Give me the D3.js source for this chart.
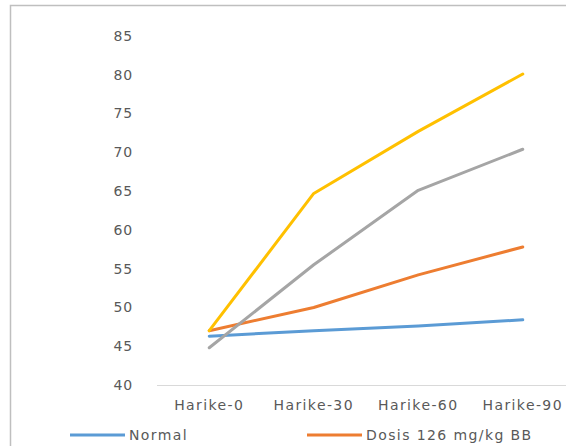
<!DOCTYPE html>
<html>
<head>
<meta charset="utf-8">
<script src="https://cdn.jsdelivr.net/npm/d3@7"></script>
<style>
  html, body { margin: 0; padding: 0; background: #fff; }
  svg { display: block; }
  text { font-family: "DejaVu Sans", sans-serif; fill: #595959; }
</style>
</head>
<body>
<svg id="chart" width="566" height="446"></svg>
<script>
// Observation days
const categories = ["Harike-0", "Harike-30", "Harike-60", "Harike-90"];
// Y axis ticks
const yTicks = [40, 45, 50, 55, 60, 65, 70, 75, 80, 85];

// Series values per day
const normal = [46.3, 47.0, 47.6, 48.4];
const dosis126 = [47.0, 50.0, 54.2, 57.8];
const seriesGray = [44.8, 55.5, 65.1, 70.4];
const seriesYellow = [47.0, 64.7, 72.7, 80.1];

const seriesNames = ["Normal", "Dosis 126 mg/kg BB"];
const seriesColors = ["#5b9bd5", "#ed7d31", "#a5a5a5", "#ffc000"];

const series = [
  { values: normal, color: seriesColors[0], name: seriesNames[0] },
  { values: dosis126, color: seriesColors[1], name: seriesNames[1] },
  { values: seriesGray, color: seriesColors[2] },
  { values: seriesYellow, color: seriesColors[3] }
];

const svg = d3.select("#chart");

// Chart frame
svg.append("rect")
  .attr("x", 10.5).attr("y", 5.5)
  .attr("width", 600).attr("height", 480)
  .attr("fill", "none").attr("stroke", "#bfbfbf").attr("stroke-width", 1.5);

const plotLeft = 157, plotRight = 575;
const x = d3.scaleBand().domain(categories).range([plotLeft, plotRight]);
const y = d3.scaleLinear().domain([40, 85]).range([385, 36]);

// Baseline axis
svg.append("line")
  .attr("x1", plotLeft).attr("x2", plotRight)
  .attr("y1", y(40) + 0.5).attr("y2", y(40) + 0.5)
  .attr("stroke", "#d9d9d9").attr("stroke-width", 1);

// Y tick labels
svg.append("g").selectAll("text").data(yTicks).join("text")
  .attr("x", 133).attr("y", d => y(d))
  .attr("dy", "0.35em")
  .attr("text-anchor", "end")
  .style("font-size", "14px")
  .style("letter-spacing", "0.8px")
  .text(d => d);

// X category labels
svg.append("g").selectAll("text").data(categories).join("text")
  .attr("x", d => x(d) + x.bandwidth() / 2)
  .attr("y", 410)
  .attr("text-anchor", "middle")
  .style("font-size", "14px")
  .style("letter-spacing", "1.4px")
  .text(d => d);

// Lines
const line = d3.line()
  .x((d, i) => x(categories[i]) + x.bandwidth() / 2)
  .y(d => y(d));

svg.append("g").selectAll("path").data(series).join("path")
  .attr("d", d => line(d.values))
  .attr("fill", "none")
  .attr("stroke", d => d.color)
  .attr("stroke-width", 3)
  .attr("stroke-linejoin", "round")
  .attr("stroke-linecap", "round");

// Legend
const legendItems = series.filter(s => s.name);
const legendX = [70, 307];
const lg = svg.append("g").selectAll("g").data(legendItems).join("g")
  .attr("transform", (d, i) => `translate(${legendX[i]},435)`);
lg.append("line")
  .attr("x1", 0).attr("x2", 55).attr("y1", 0).attr("y2", 0)
  .attr("stroke", d => d.color).attr("stroke-width", 3);
lg.append("text")
  .attr("x", 59).attr("y", 0).attr("dy", "0.35em")
  .style("font-size", "14px")
  .style("letter-spacing", "1.4px")
  .text(d => d.name);
</script>
</body>
</html>
